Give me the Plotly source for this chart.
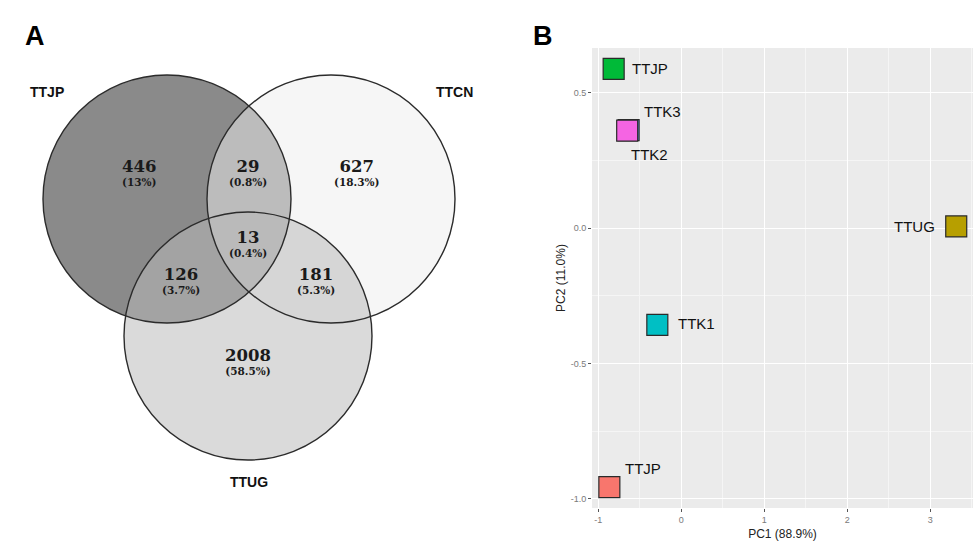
import plotly.graph_objects as go

# ---------------- Data ----------------
# Venn diagram (panel A)
set_names = ["TTJP", "TTCN", "TTUG"]
region_names = ["TTJP only", "TTJP&TTCN", "TTCN only", "All", "TTJP&TTUG", "TTCN&TTUG", "TTUG only"]
region_counts = [446, 29, 627, 13, 126, 181, 2008]

# PCA (panel B)
pca_labels = ["TTJP", "TTK3", "TTK2", "TTUG", "TTK1", "TTJP"]
pc1_values = [-0.815, -0.635, -0.652, 3.312, -0.289, -0.867]
pc2_values = [0.588, 0.362, 0.360, 0.006, -0.358, -0.957]
pca_colors = ["#00BA38", "#619CFF", "#F564E3", "#B79F00", "#00BFC4", "#F8766D"]
x_ticks = [-1, 0, 1, 2, 3]
x_tick_text = ["-1", "0", "1", "2", "3"]
y_ticks = [-1.0, -0.5, 0.0, 0.5]
y_tick_text = ["-1.0", "-0.5", "0.0", "0.5"]

# ---------------- Layout geometry (pixels in panel A frame) ----------------
W, H = 975, 544
circle_centers = {"TTJP": (167, 199), "TTCN": (331, 199), "TTUG": (248, 336)}
circle_r = 124
circle_fills = {"TTJP": "rgba(138,138,138,1)",
                "TTCN": "rgba(237,237,237,0.51)",
                "TTUG": "rgba(185,185,185,0.53)"}
region_pos = [(139, 172), (248, 172), (357, 172), (248, 243), (181, 280), (316, 280), (248, 361)]
set_label_pos = {"TTJP": (47, 92), "TTCN": (454, 92), "TTUG": (249, 482)}

# PCA label placement (pixel offsets from point, anchor)
label_place = [(16, 0, "left"), (13, 19, "left"), (2, -24, "left"),
               (-19, 0, "right"), (19, 1, "left"), (14, 19, "left")]

fig = go.Figure()

# ---------------- Panel A: Venn ----------------
shapes = [dict(type="rect", xref="x domain", yref="y domain", x0=0, x1=1, y0=0, y1=1,
               fillcolor="#EBEBEB", line=dict(width=0), layer="below")]
for name in set_names:
    cx, cy = circle_centers[name]
    shapes.append(dict(type="circle", xref="x2", yref="y2",
                       x0=cx - circle_r, x1=cx + circle_r, y0=cy - circle_r, y1=cy + circle_r,
                       fillcolor=circle_fills[name], line=dict(width=0), layer="above"))
for name in set_names:
    cx, cy = circle_centers[name]
    shapes.append(dict(type="circle", xref="x2", yref="y2",
                       x0=cx - circle_r, x1=cx + circle_r, y0=cy - circle_r, y1=cy + circle_r,
                       fillcolor="rgba(0,0,0,0)", line=dict(width=1.4, color="#2b2b2b"), layer="above"))

total = sum(region_counts)
annotations = []
for cnt, (px, py) in zip(region_counts, region_pos):
    pct = f"{100 * cnt / total:.1f}"
    if pct.endswith(".0"):
        pct = pct[:-2]
    annotations.append(dict(x=px, y=py, xref="x2", yref="y2",
                            text=f"<span style='font-size:16.5px'><b>{cnt}</b></span><br><b>({pct}%)</b>",
                            showarrow=False,
                            font=dict(family="DejaVu Serif", size=10.5, color="#1a1a1a")))
for name in set_names:
    px, py = set_label_pos[name]
    annotations.append(dict(x=px, y=py, xref="x2", yref="y2", text=f"<b>{name}</b>",
                            showarrow=False, font=dict(family="Liberation Sans", size=14, color="#111")))

# Panel letters
annotations.append(dict(x=23 / W, y=1 - 19 / H, xref="paper", yref="paper", text="<b>A</b>",
                        showarrow=False, font=dict(family="Liberation Sans", size=27, color="black")))
annotations.append(dict(x=543 / W, y=1 - 19 / H, xref="paper", yref="paper", text="<b>B</b>",
                        showarrow=False, font=dict(family="Liberation Sans", size=27, color="black")))

# invisible trace to create venn axes
fig.add_trace(go.Scatter(x=[0, 480], y=[0, 544], mode="markers", marker=dict(opacity=0),
                         xaxis="x2", yaxis="y2", hoverinfo="skip", showlegend=False))

# ---------------- Panel B: PCA ----------------
for lab, x, y, c in zip(pca_labels, pc1_values, pc2_values, pca_colors):
    fig.add_trace(go.Scatter(x=[x], y=[y], mode="markers", name=lab, showlegend=False,
                             marker=dict(symbol="square", size=21, color=c,
                                         line=dict(width=1.2, color="#2a2a2a"))))
for lab, x, y, (dx, dy, anc) in zip(pca_labels, pc1_values, pc2_values, label_place):
    annotations.append(dict(x=x, y=y, xref="x", yref="y", text=lab, showarrow=False,
                            xanchor=anc, xshift=dx, yshift=dy,
                            font=dict(family="Liberation Sans", size=15, color="#111")))

fig.update_layout(
    width=W, height=H, margin=dict(l=0, r=0, t=0, b=0),
    paper_bgcolor="white", plot_bgcolor="white", showlegend=False,
    shapes=shapes, annotations=annotations,
    xaxis=dict(domain=[592 / W, 973 / W], range=[-1.076, 3.514],
               tickvals=x_ticks, ticktext=x_tick_text,
               showgrid=True, gridcolor="white", gridwidth=1.3, zeroline=False,
               minor=dict(dtick=0.5, tick0=-1, showgrid=True, gridcolor="#F5F5F5", gridwidth=0.6),
               ticks="outside", ticklen=3, tickcolor="#555", tickwidth=1,
               tickfont=dict(family="Liberation Sans", size=9, color="#7a7a7a"),
               title=dict(text="PC1 (88.9%)", standoff=5,
                          font=dict(family="Liberation Sans", size=12, color="#222")),
               automargin=False, showline=False, fixedrange=True),
    yaxis=dict(domain=[1 - 508 / H, 1 - 48 / H], range=[-1.034, 0.665],
               tickvals=y_ticks, ticktext=y_tick_text,
               showgrid=True, gridcolor="white", gridwidth=1.3, zeroline=False,
               minor=dict(dtick=0.25, tick0=-1, showgrid=True, gridcolor="#F5F5F5", gridwidth=0.6),
               ticks="outside", ticklen=3, tickcolor="#555", tickwidth=1,
               tickfont=dict(family="Liberation Sans", size=9, color="#7a7a7a"),
               title=dict(text="PC2 (11.0%)", standoff=2,
                          font=dict(family="Liberation Sans", size=12, color="#222")),
               automargin=False, showline=False, fixedrange=True),
    xaxis2=dict(domain=[0, 480 / W], range=[0, 480], visible=False, fixedrange=True, anchor="y2"),
    yaxis2=dict(domain=[0, 1], range=[544, 0], visible=False, fixedrange=True, anchor="x2"),
)
fig.data[0].update(xaxis="x2", yaxis="y2")

fig.write_html("out.html", config={"displayModeBar": False},
               post_script="document.body.style.margin='0px';document.body.style.overflow='hidden';")
